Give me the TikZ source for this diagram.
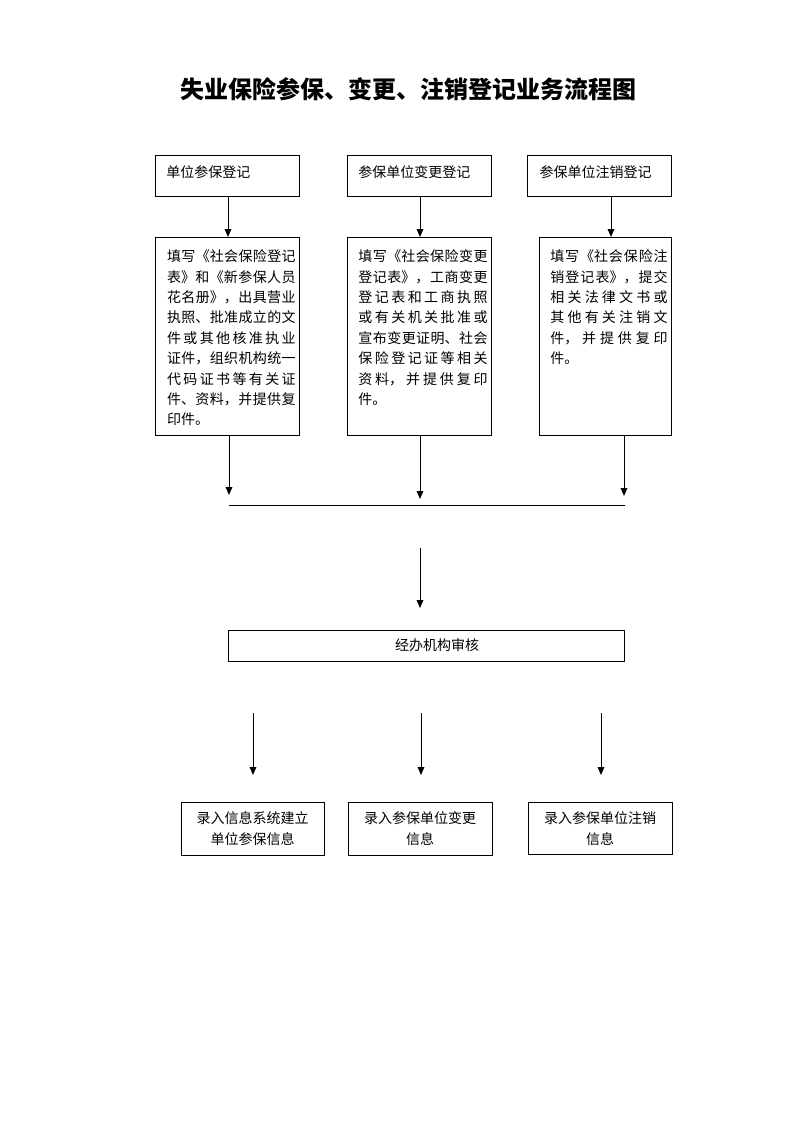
\documentclass[tikz,border=0pt]{standalone}
\usepackage{fontspec}
\setmainfont{Noto Sans CJK SC}
\usetikzlibrary{arrows.meta}
\XeTeXlinebreaklocale "zh"
\XeTeXlinebreakskip=0pt plus 1pt
\newcommand\boxtext[5]{\parbox[c][#2][t]{#1}{\leftskip=#3\relax\rightskip=2.5pt\relax\rule{0pt}{#4}#5}}
\newcommand\ctrtext[3]{\parbox[c][#2][t]{#1}{\centering\fontsize{10.5pt}{15.75pt}\selectfont\rule{0pt}{16pt}#3}}
\tikzset{
  box/.style={draw, line width=0.75pt, inner sep=0pt, outer sep=0pt, font=\fontsize{10.5pt}{15.3pt}\selectfont},
  arr/.style={line width=0.75pt, -{Triangle[length=6pt,width=5pt]}},
  ln/.style={line width=0.75pt}
}
\begin{document}
\begin{tikzpicture}[x=0.75pt,y=-0.75pt]
\fill[white] (0,0) rectangle (793,1122);
\useasboundingbox (0,0) rectangle (793,1122);

\node[font=\fontsize{18pt}{20pt}\selectfont\bfseries] (title) at (408.5,89) {失业保险参保、变更、注销登记业务流程图};

% row 1
\node[box] (b1) at (227,175.5) {\boxtext{108pt}{30.75pt}{8.5pt}{17pt}{单位参保登记}};
\node[box] (b2) at (419,175.5) {\boxtext{108pt}{30.75pt}{8.5pt}{17pt}{参保单位变更登记}};
\node[box] (b3) at (599,175.5) {\boxtext{108pt}{30.75pt}{9.5pt}{17pt}{参保单位注销登记}};

% row 2
\node[box] (c1) at (227,336) {\boxtext{108pt}{148.5pt}{9pt}{18.5pt}{填写《社会保险登记\linebreak
表》和《新参保人员\linebreak
花名册》，出具营业\linebreak
执照、批准成立的文\linebreak
件或其他核准执业\linebreak
证件，组织机构统一\linebreak
代码证书等有关证\linebreak
件、资料，并提供复\linebreak
印件。}};
\node[box] (c2) at (419,336) {\boxtext{108pt}{148.5pt}{8.5pt}{18.5pt}{填写《社会保险变更\linebreak
登记表》，工商变更\linebreak
登记表和工商执照\linebreak
或有关机关批准或\linebreak
宣布变更证明、社会\linebreak
保险登记证等相关\linebreak
资料，并提供复印\linebreak
件。}};
\node[box] (c3) at (605,336) {\boxtext{99pt}{148.5pt}{8.5pt}{18.5pt}{填写《社会保险注\linebreak
销登记表》，提交\linebreak
相关法律文书或\linebreak
其他有关注销文\linebreak
件，并提供复印\linebreak
件。}};

% review box
\node[box, minimum width=297pt, minimum height=23.25pt] (d) at (426,645.5) {\hspace*{16.5pt}经办机构审核};

% bottom boxes
\node[box] (e1) at (252.5,828.5) {\ctrtext{107.25pt}{39.75pt}{录入信息系统建立\\单位参保信息}};
\node[box] (e2) at (420,828.5) {\ctrtext{108pt}{39.75pt}{录入参保单位变更\\信息}};
\node[box] (e3) at (600,828) {\ctrtext{108pt}{39pt}{录入参保单位注销\\信息}};

% arrows row1 -> row2
\draw[arr] ([xshift=0.75pt]b1.south) -- ([xshift=0.75pt]b1.south |- c1.north);
\draw[arr] ([xshift=0.75pt]b2.south) -- ([xshift=0.75pt]b2.south |- c2.north);
\draw[arr] ([xshift=9pt]b3.south) -- ([xshift=9pt]b3.south |- c3.north);

% arrows row2 -> bar
\coordinate (m1) at (229,495);
\coordinate (m2) at (420,499);
\coordinate (m3) at (624,496);
\draw[arr] (c1.south -| m1) -- (m1);
\draw[arr] (c2.south -| m2) -- (m2);
\draw[arr] (c3.south -| m3) -- (m3);

% bar
\coordinate (hl) at (229,505);
\coordinate (hr) at (625,505);
\draw[ln] (hl) -- (hr);

% arrow to review
\coordinate (ms) at (420,548);
\coordinate (me) at (420,608);
\draw[arr] (ms) -- (me);

% bottom arrows
\coordinate (s1) at (253,713);
\coordinate (t1) at (253,775);
\coordinate (s2) at (421,713);
\coordinate (t2) at (421,775);
\coordinate (s3) at (601,713);
\coordinate (t3) at (601,775);
\draw[arr] (s1) -- (t1);
\draw[arr] (s2) -- (t2);
\draw[arr] (s3) -- (t3);
\end{tikzpicture}
\end{document}
